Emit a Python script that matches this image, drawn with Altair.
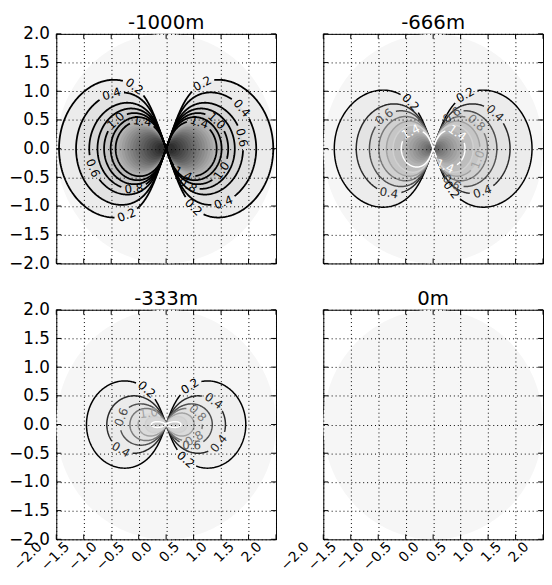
import numpy as np
import pandas as pd
import altair as alt

# ---------------- data ----------------
TITLES = ["-1000m", "-666m", "-333m", "0m"]
TICKS = [-2.0, -1.5, -1.0, -0.5, 0.0, 0.5, 1.0, 1.5, 2.0]
MASK_RADIUS = 2.0
LEVELS = [0.2, 0.4, 0.6, 0.8, 1.0, 1.2, 1.4]

# contour lines: lobe extent along x (|x| where the contour crosses y=0) and peak height
EXT_1000 = [1.95, 1.64, 1.40, 1.25, 1.13, 1.01, 0.92]
HGT_1000 = [1.20, 0.98, 0.80, 0.70, 0.62, 0.55, 0.48]
EXT_666 = [1.80, 1.40, 1.16, 0.99, 0.85, 0.73, 0.58]
HGT_666 = [1.02, 0.78, 0.66, 0.56, 0.48, 0.41, 0.32]
EXT_333 = [1.45, 1.08, 0.84, 0.66, 0.51, 0.38, 0.27]
HGT_333 = [0.76, 0.50, 0.36, 0.28, 0.20, 0.14, 0.05]

# inner filled levels (beyond the last labelled line)
FILLV_1000 = [1.6, 1.8, 2.0, 2.2, 2.4, 2.6, 2.8, 3.0, 3.2, 3.4, 3.6, 3.8, 4.0, 4.2, 4.4]
FILLA_1000 = [0.86, 0.81, 0.76, 0.71, 0.66, 0.61, 0.56, 0.51, 0.46, 0.41, 0.36, 0.31, 0.26, 0.21, 0.16]
FILLH_1000 = [0.43, 0.40, 0.38, 0.35, 0.33, 0.30, 0.28, 0.25, 0.23, 0.20, 0.18, 0.15, 0.13, 0.10, 0.08]
FILLV_666 = [1.6, 1.8, 2.0, 2.2, 2.4, 2.6, 2.8, 3.0, 3.2]
FILLA_666 = [0.50, 0.44, 0.38, 0.33, 0.28, 0.23, 0.18, 0.14, 0.10]
FILLH_666 = [0.26, 0.23, 0.20, 0.17, 0.14, 0.12, 0.09, 0.07, 0.05]
FILLV_333 = [1.6]
FILLA_333 = [0.20]
FILLH_333 = [0.03]

# contour labels: level, lobe side (-1 left, 1 right), angle along the lobe (deg)
LBL_LEV_1000 = [0.4, 0.2, 0.6, 1.0, 1.4, 0.8, 0.2, 0.2, 0.4, 0.6, 1.0, 1.4, 1.0, 0.4, 1.4, 0.8, 0.2]
LBL_SIDE_1000 = [-1, -1, -1, -1, -1, -1, -1, 1, 1, 1, 1, 1, 1, 1, 1, 1, 1]
LBL_PHI_1000 = [44, -58, -14, 28, 48, -50, 62, 60, 27, 8, 28, 37, -21, -42, -55, -58, -64]
LBL_LEV_666 = [0.6, 0.4, 0.2, 1.4, 0.2, 0.4, 0.6, 0.8, 1.4, 1.0, 0.4, 1.4, 0.6, 0.2]
LBL_SIDE_666 = [-1, -1, -1, -1, 1, 1, 1, 1, 1, 1, 1, 1, 1, 1]
LBL_PHI_666 = [32, -44, 63, 36, 58, 29, 60, 30, 32, -13, -40, -55, -60, -65]
LBL_LEV_333 = [0.2, 0.6, 0.4, 1.0, 0.2, 0.4, 0.8, 0.4, 0.6, 0.8, 0.2]
LBL_SIDE_333 = [-1, -1, -1, -1, 1, 1, 1, 1, 1, 1, 1]
LBL_PHI_333 = [60, 9, -28, 32, 57, 25, 19, -19, -38, -25, -60]

# ---------------- geometry helpers ----------------
W, H = 223, 233
SX, SY = W / 4.0, H / 4.0
PHI0 = np.deg2rad(70.0)
C0 = np.cos(PHI0)
NPT = 180


def shape_r(a, p, phi):
    base = np.clip((np.cos(phi) - C0) / (1.0 - C0), 0.0, None)
    return a * base ** p


def fit_p(a, h):
    phi = np.linspace(0, PHI0, 1500)
    lo, hi = 1e-3, 80.0
    for _ in range(60):
        mid = np.sqrt(lo * hi)
        hm = (shape_r(a, mid, phi) * np.sin(phi)).max()
        if hm > h:
            lo = mid
        else:
            hi = mid
    return np.sqrt(lo * hi)


def half_phi():
    s = np.linspace(0, 1, NPT)
    return PHI0 * (1 - (1 - s) ** 3)


def fill_rows(vals, exts, hgts):
    rows = []
    ph = half_phi()
    for k, (v, a, h) in enumerate(zip(vals, exts, hgts)):
        p = fit_p(a, h)
        r = shape_r(a, p, ph)
        xs = r * np.cos(ph)
        ys = r * np.sin(ph)
        gid = "g%03d" % k
        for xx, yy in zip(-xs, ys):
            rows.append({"x": xx, "top": yy, "bot": -yy, "v": v, "gid": gid})
        for xx, yy in zip(xs[::-1], ys[::-1]):
            rows.append({"x": xx, "top": yy, "bot": -yy, "v": v, "gid": gid})
    return pd.DataFrame(rows)


def line_and_label_rows(levels, exts, hgts, lbl_lev, lbl_side, lbl_phi):
    line_rows, text_rows = [], []
    ph = half_phi()
    phi = np.concatenate([-ph[::-1], ph[1:]])
    for lev, a, h in zip(levels, exts, hgts):
        p = fit_p(a, h)
        r = shape_r(a, p, phi)
        for side in (-1, 1):
            x = side * r * np.cos(phi)
            y = r * np.sin(phi)
            px, py = x * SX, -y * SY
            s = np.concatenate([[0], np.cumsum(np.hypot(np.diff(px), np.diff(py)))])
            keep = np.ones_like(x, dtype=bool)
            for L, sd, pd_ in zip(lbl_lev, lbl_side, lbl_phi):
                if abs(L - lev) > 1e-9 or sd != side:
                    continue
                idx = int(np.argmin(np.abs(phi - np.deg2rad(pd_))))
                txt = "%.1f" % lev
                half = len(txt) * 12 * 0.53 / 2 + 3
                keep &= np.abs(s - s[idx]) >= half
                i0, i1 = max(idx - 3, 0), min(idx + 3, len(x) - 1)
                ang = np.degrees(np.arctan2(py[i1] - py[i0], px[i1] - px[i0]))
                if ang > 90:
                    ang -= 180
                if ang < -90:
                    ang += 180
                text_rows.append({"x": x[idx], "y": y[idx], "txt": txt, "v": lev, "ang": ang % 360})
            seg = 0
            prev = False
            for i in range(len(x)):
                if keep[i]:
                    if not prev:
                        seg += 1
                    line_rows.append({"x": x[i], "y": y[i], "v": lev, "i": i,
                                      "seg": "%.1f_%d_%d" % (lev, side, seg)})
                prev = keep[i]
    return pd.DataFrame(line_rows), pd.DataFrame(text_rows)


FONT = "DejaVu Sans"
MINUS = "\u2212"
LABEL_EXPR = "replace(format(datum.value, '.1f'), '-', '%s')" % MINUS


def make_panel(title, show_x, show_y, lines=None, fills=None, labels=None,
               vmax=4.8, line_range=("black", "black"), lw=1.5):
    xaxis = alt.Axis(values=TICKS, grid=True, gridColor="black", gridDash=[1, 3], gridWidth=1,
                     gridOpacity=1, ticks=False, domain=False, labels=show_x, labelAngle=315,
                     labelAlign="right", labelBaseline="middle", labelFont=FONT, labelFontSize=14,
                     labelColor="black", labelPadding=5, labelOffset=-17, labelExpr=LABEL_EXPR,
                     labelFlush=False, labelOverlap=False, labelBound=False, title=None, zindex=1)
    # y labels always laid out (so titles sit the same way in every panel), hidden on the right
    yaxis = alt.Axis(values=TICKS, grid=True, gridColor="black", gridDash=[1, 3], gridWidth=1,
                     gridOpacity=1, ticks=False, domain=False, labels=True,
                     labelOpacity=1 if show_y else 0, labelFont=FONT,
                     labelFontSize=17, labelColor="black", labelPadding=7, labelExpr=LABEL_EXPR,
                     labelFlush=False, labelOverlap=False, title=None, zindex=1)
    xs = alt.Scale(domain=[-2, 2], nice=False)
    ys = alt.Scale(domain=[-2, 2], nice=False)

    def X(f="x"):
        return alt.X(f + ":Q", scale=xs, axis=xaxis)

    def Y(f="y", stack=False):
        if stack:
            return alt.Y(f + ":Q", scale=ys, axis=yaxis, stack=None)
        return alt.Y(f + ":Q", scale=ys, axis=yaxis)

    # masked data disc
    t = np.linspace(0, np.pi, 241)
    disc = pd.DataFrame({"x": -MASK_RADIUS * np.cos(t), "top": MASK_RADIUS * np.sin(t)})
    disc["bot"] = -disc["top"]
    layers = [alt.Chart(disc).mark_area(color="#f6f6f6").encode(
        x=X(), y=Y("top", True), y2="bot:Q")]

    if fills is not None:
        fill_scale = alt.Scale(domain=[0, vmax], range=["#f6f6f6", "#2e2e2e"])
        layers.append(alt.Chart(fills).mark_area().encode(
            x=X(), y=Y("top", True), y2="bot:Q",
            fill=alt.Fill("v:Q", scale=fill_scale, legend=None), detail="gid:N"))
    if lines is not None:
        line_scale = alt.Scale(domain=[0.2, 1.4], range=list(line_range))
        layers.append(alt.Chart(lines).mark_line(strokeWidth=lw).encode(
            x=X(), y=Y(), order="i:Q",
            stroke=alt.Stroke("v:Q", scale=line_scale, legend=None), detail="seg:N"))
        layers.append(alt.Chart(labels).mark_text(font=FONT, fontSize=12).encode(
            x=X(), y=Y(), text="txt:N", angle=alt.Angle("ang:Q", scale=None),
            color=alt.Color("v:Q", scale=line_scale, legend=None)))

    tk = pd.DataFrame({"x": TICKS, "y": TICKS})
    layers += [
        alt.Chart(tk).mark_rule(color="black").encode(x=X(), y=alt.value(0), y2=alt.value(5)),
        alt.Chart(tk).mark_rule(color="black").encode(x=X(), y=alt.value(H - 5), y2=alt.value(H)),
        alt.Chart(tk).mark_rule(color="black").encode(y=Y(), x=alt.value(0), x2=alt.value(5)),
        alt.Chart(tk).mark_rule(color="black").encode(y=Y(), x=alt.value(W - 5), x2=alt.value(W)),
    ]
    return alt.layer(*layers).properties(
        width=W, height=H,
        title=alt.TitleParams(text=title, font=FONT, fontSize=20, fontWeight="normal",
                              color="black", anchor="middle", offset=-8, frame="group"),
    ).resolve_scale(fill="independent", stroke="independent", color="independent")


def panel_data(levels, ext, hgt, fv, fa, fh, ll, ls, lp):
    fills = fill_rows(levels + fv, ext + fa, hgt + fh)
    lines, labels = line_and_label_rows(levels, ext, hgt, ll, ls, lp)
    return fills, lines, labels


f1, l1, t1 = panel_data(LEVELS, EXT_1000, HGT_1000, FILLV_1000, FILLA_1000, FILLH_1000,
                        LBL_LEV_1000, LBL_SIDE_1000, LBL_PHI_1000)
f2, l2, t2 = panel_data(LEVELS, EXT_666, HGT_666, FILLV_666, FILLA_666, FILLH_666,
                        LBL_LEV_666, LBL_SIDE_666, LBL_PHI_666)
f3, l3, t3 = panel_data(LEVELS, EXT_333, HGT_333, FILLV_333, FILLA_333, FILLH_333,
                        LBL_LEV_333, LBL_SIDE_333, LBL_PHI_333)

p1 = make_panel(TITLES[0], False, True, l1, f1, t1, vmax=4.4, line_range=("black", "black"), lw=1.8)
p2 = make_panel(TITLES[1], False, False, l2, f2, t2, vmax=4.6, line_range=("black", "white"), lw=1.5)
p3 = make_panel(TITLES[2], True, True, l3, f3, t3, vmax=8.0, line_range=("black", "white"), lw=1.5)
p4 = make_panel(TITLES[3], True, False)

IND = dict(fill="independent", stroke="independent", color="independent")
chart = alt.concat(
    p1, p2, p3, p4, columns=2, bounds="flush",
    spacing=alt.RowColnumber(row=47, column=48),
).resolve_scale(**IND).properties(
    padding=0, background="white"
).configure_view(stroke="black", strokeWidth=1)

chart.save("out.html", embed_options={"renderer": "svg", "actions": False})
